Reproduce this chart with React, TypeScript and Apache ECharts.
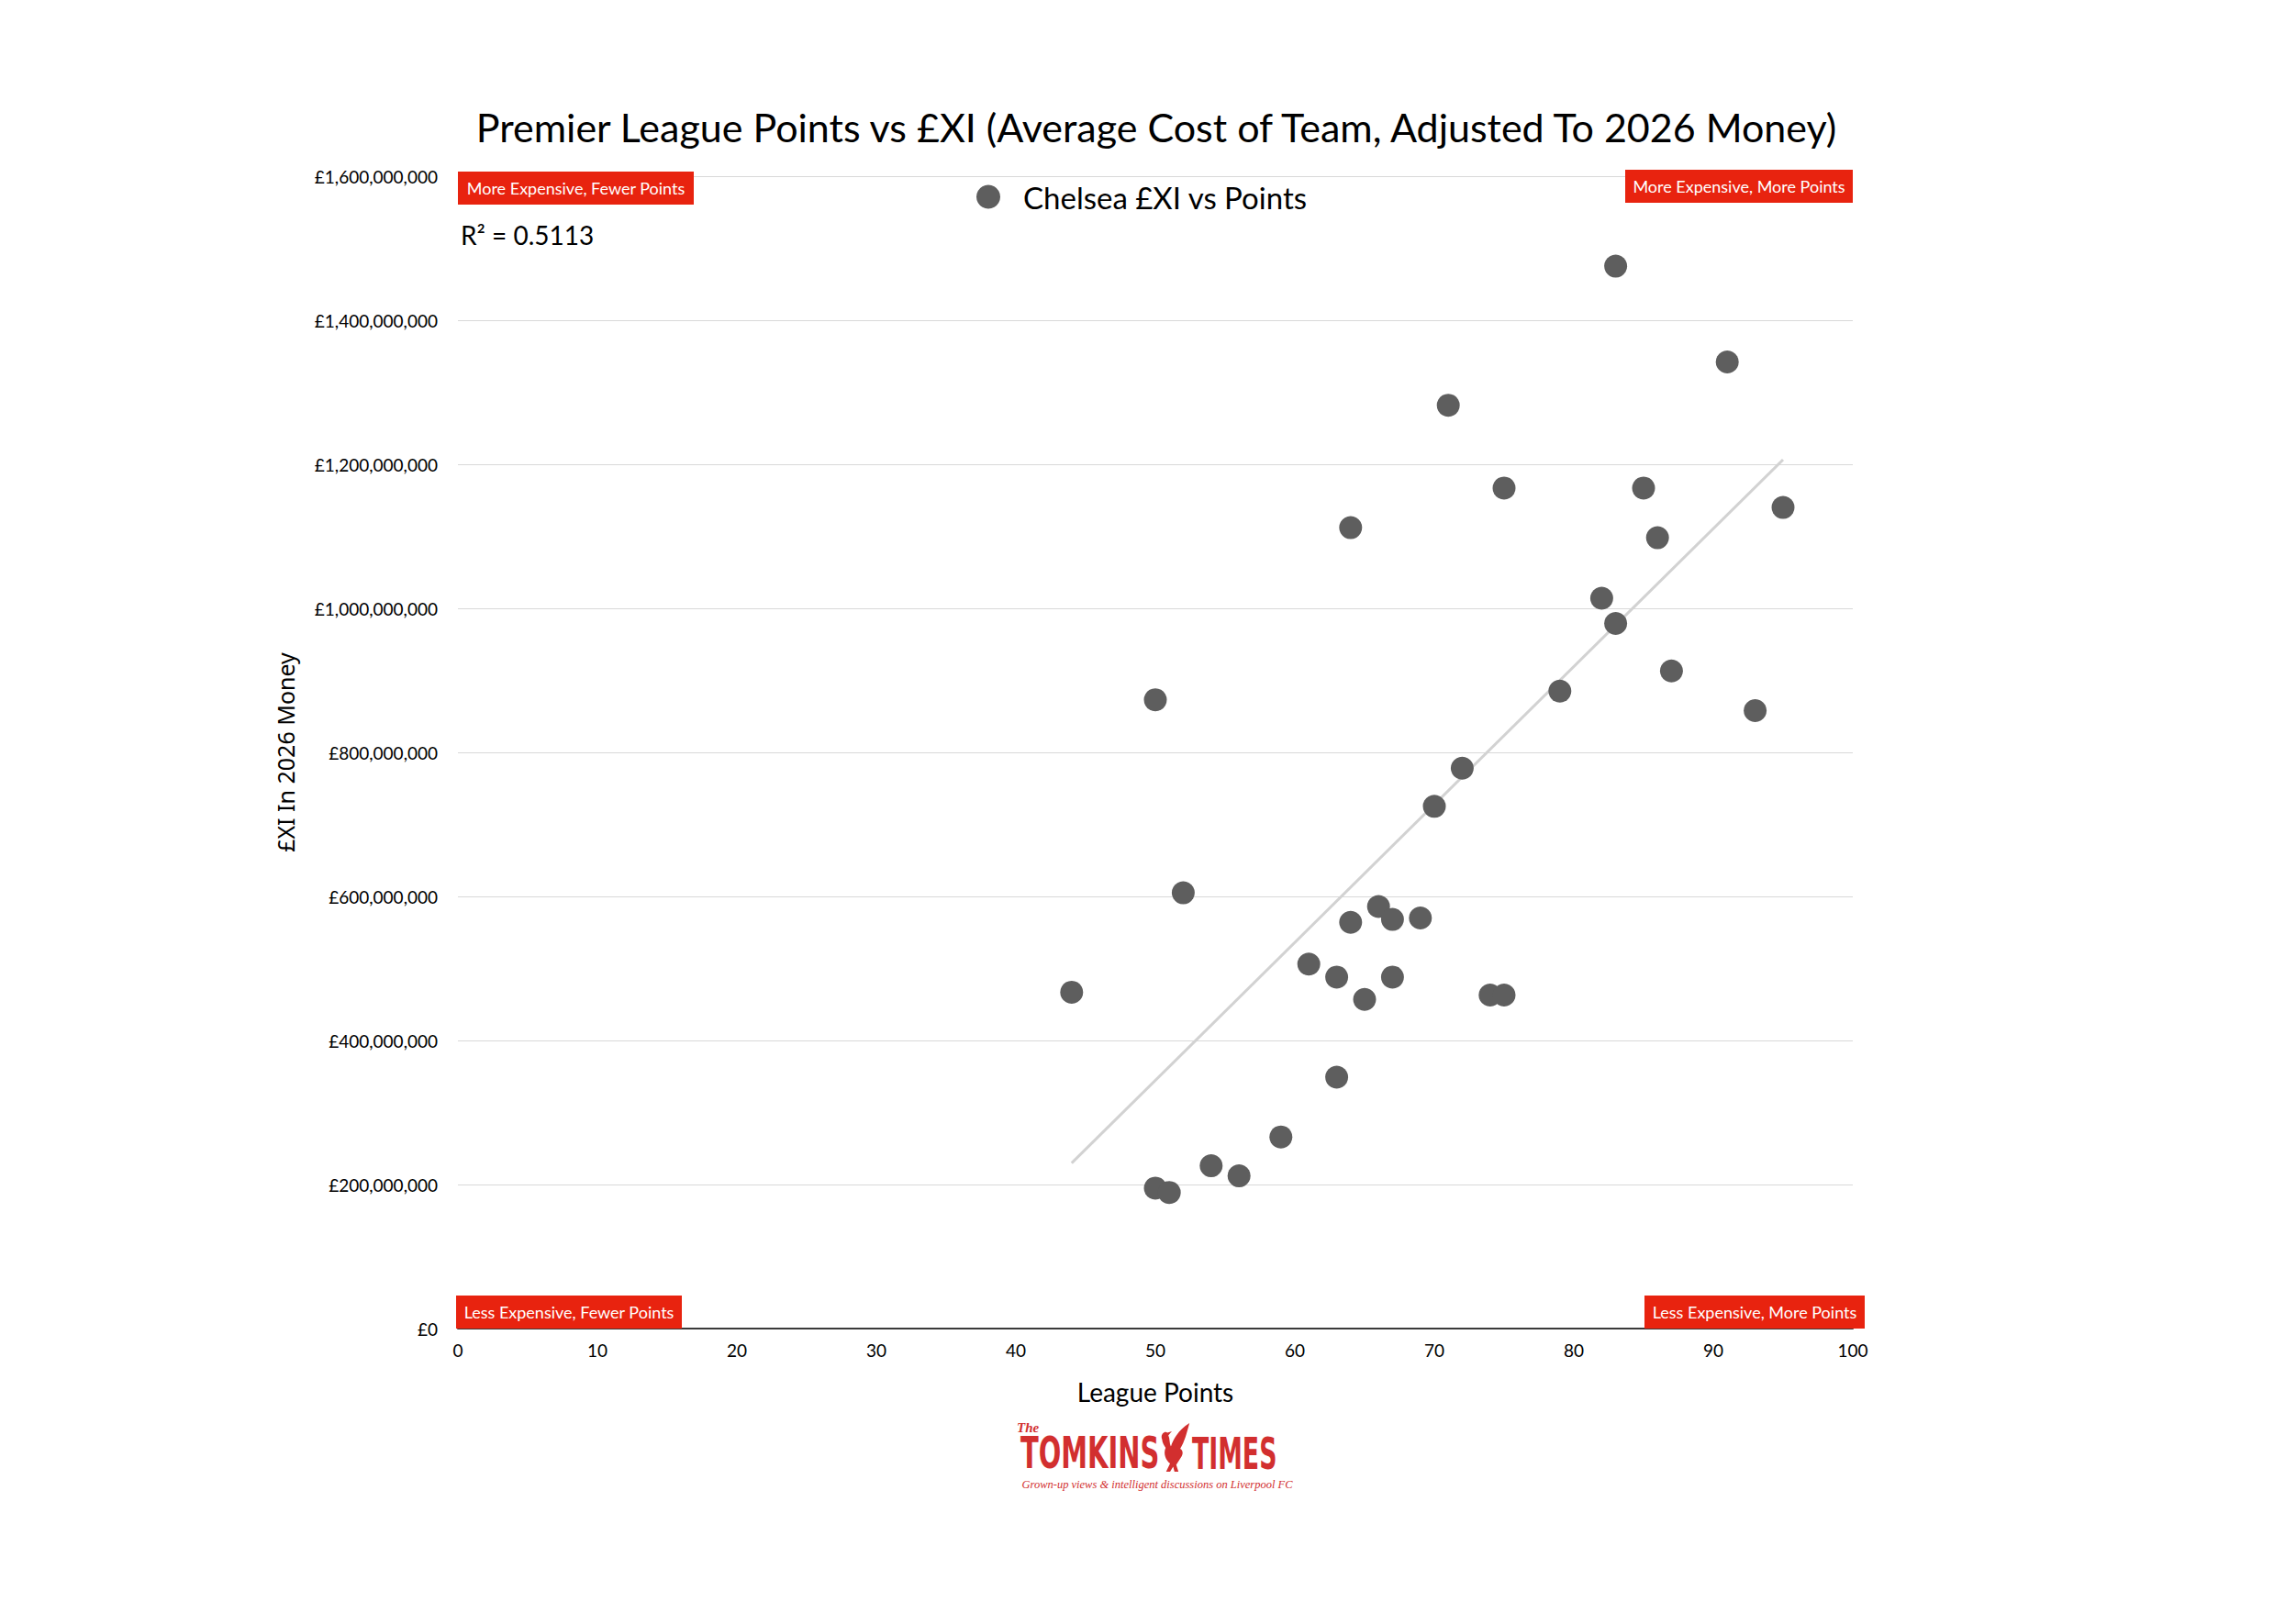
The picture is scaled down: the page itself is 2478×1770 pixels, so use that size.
import React, { useEffect, useRef } from "react";
import * as echarts from "echarts";

const seriesName = "Chelsea £XI vs Points";
const leaguePoints = [83, 91, 71, 75, 85, 64, 95, 86, 82, 83, 87, 79, 93, 50, 72, 70, 52, 66, 64, 67, 69, 61, 63, 67, 65, 74, 75, 44, 63, 59, 54, 56, 50, 51];
const xiCostMillions = [1475, 1342, 1282, 1167, 1167, 1112, 1140, 1098, 1014, 979, 913, 885, 858, 873, 778, 725, 605, 586, 564, 568, 570, 506, 488, 488, 457, 463, 463, 467, 349, 266, 226, 212, 195, 189];
const xTicks = [0, 100, 10];
const yTicks = [0, 1600000000, 200000000];
const titleText = "Premier League Points vs £XI (Average Cost of Team, Adjusted To 2026 Money)";
const rSquaredText = "R² = 0.5113";
const quadrantLabels = [
  "More Expensive, Fewer Points",
  "More Expensive, More Points",
  "Less Expensive, Fewer Points",
  "Less Expensive, More Points",
];

const BIRD =
  "M30 40 C 25 30, 35 20, 42 25 L 52 22 L 44 31 C 48 38, 46 48, 50 55 C 55 40, 66 20, 92 4 C 86 25, 81 45, 71 60 C 77 63, 79 71, 72 80 L 62 95 L 67 110 L 58 110 L 55 99 L 48 110 L 39 110 L 48 92 C 38 85, 32 70, 38 58 C 34 52, 30 46, 30 40 Z";
echarts.graphic.registerShape("liverbird", echarts.graphic.extendPath(BIRD, {}));

function regression(xs: number[], ys: number[]) {
  const n = xs.length;
  const mx = xs.reduce((a, b) => a + b, 0) / n;
  const my = ys.reduce((a, b) => a + b, 0) / n;
  let sxy = 0;
  let sxx = 0;
  for (let i = 0; i < n; i++) {
    sxy += (xs[i] - mx) * (ys[i] - my);
    sxx += (xs[i] - mx) * (xs[i] - mx);
  }
  const b = sxy / sxx;
  const a = my - b * mx;
  return { a, b };
}

export default function App() {
  const ref = useRef<HTMLDivElement>(null);
  useEffect(() => {
    if (!ref.current) return;
    const chart = echarts.init(ref.current, null, { renderer: "svg" });
    const ys = xiCostMillions.map((v) => v * 1e6);
    const pts = leaguePoints.map((x, i) => [x, ys[i]]);
    const { a, b } = regression(leaguePoints, ys);
    const minX = Math.min(...leaguePoints);
    const maxX = Math.max(...leaguePoints);
    const trend = [
      [minX, a + b * minX],
      [maxX, a + b * maxX],
    ];
    const font = "Lato, 'Noto Sans', sans-serif";
    const red = "#e8230f";
    const logoRed = "#d22f2f";
    const box = (x: number, y: number, w: number, label: string) => ({
      type: "group",
      x,
      y,
      z: 100,
      children: [
        { type: "rect", z: 100, shape: { x: 0, y: 0, width: w, height: 36 }, style: { fill: red } },
        {
          type: "text",
          z: 101,
          x: w / 2,
          y: 18,
          style: {
            text: label,
            fill: "#fff",
            font: `18px ${font}`,
            textAlign: "center",
            textVerticalAlign: "middle",
          },
        },
      ],
    });
    chart.setOption({
      animation: false,
      backgroundColor: "#fff",
      legend: {
        data: [seriesName],
        left: 1059,
        top: 193,
        icon: "circle",
        itemWidth: 26,
        itemHeight: 26,
        textStyle: { fontFamily: font, fontSize: 33, color: "#000", padding: [0, 0, 0, 20] },
      },
      grid: { left: 499, right: 459, top: 192, bottom: 322, containLabel: false },
      xAxis: {
        type: "value",
        min: xTicks[0],
        max: xTicks[1],
        interval: xTicks[2],
        name: "League Points",
        nameLocation: "middle",
        nameGap: 55,
        nameTextStyle: { fontFamily: font, fontSize: 28, color: "#000" },
        axisLine: { show: true, lineStyle: { color: "#3a3a3a", width: 2 } },
        axisTick: { show: false },
        splitLine: { show: false },
        axisLabel: { fontFamily: font, fontSize: 19, color: "#000", margin: 14 },
      },
      yAxis: {
        type: "value",
        min: yTicks[0],
        max: yTicks[1],
        interval: yTicks[2],
        name: "£XI In 2026 Money",
        nameLocation: "middle",
        nameGap: 176,
        nameRotate: 90,
        nameTextStyle: { fontFamily: "'Noto Sans', sans-serif", fontSize: 25, color: "#000" },
        axisLine: { show: false },
        axisTick: { show: false },
        splitLine: { show: true, lineStyle: { color: "#d9d9d9", width: 1 } },
        axisLabel: {
          fontFamily: font,
          fontSize: 19,
          color: "#000",
          margin: 22,
          formatter: (v: number) => "£" + v.toLocaleString("en-GB"),
        },
      },
      series: [
        {
          name: "trend",
          type: "line",
          data: trend,
          showSymbol: false,
          symbol: "none",
          lineStyle: { color: "#d2d2d2", width: 3 },
          silent: true,
          z: 1,
        },
        {
          name: seriesName,
          type: "scatter",
          data: pts,
          symbolSize: 25,
          itemStyle: { color: "#5e5e5e", opacity: 1 },
          z: 3,
        },
      ],
      graphic: [
        {
          type: "text",
          x: 1260,
          y: 138,
          style: {
            text: titleText,
            font: `43px ${font}`,
            fill: "#000",
            textAlign: "center",
            textVerticalAlign: "middle",
          },
        },
        box(499, 187, 257, quadrantLabels[0]),
        box(1771, 185, 248, quadrantLabels[1]),
        box(497, 1412, 246, quadrantLabels[2]),
        box(1792, 1412, 240, quadrantLabels[3]),
        {
          type: "text",
          x: 502,
          y: 256,
          style: {
            text: rSquaredText,
            font: `28px ${font}`,
            fill: "#000",
            textVerticalAlign: "middle",
          },
        },
        {
          type: "text",
          x: 1108,
          y: 1556,
          style: {
            text: "The",
            font: "italic bold 15px 'Liberation Serif', serif",
            fill: logoRed,
            textVerticalAlign: "middle",
          },
        },
        {
          type: "text",
          x: 1112,
          y: 1584,
          scaleX: 0.67,
          style: {
            text: "TOMKINS",
            font: "bold 48px 'Liberation Sans Narrow', 'DejaVu Sans Condensed', sans-serif",
            fill: logoRed,
            textVerticalAlign: "middle",
          },
        },
        {
          type: "liverbird",
          x: 1252,
          y: 1549,
          scaleX: 0.48,
          scaleY: 0.5,
          style: { fill: logoRed },
        },
        {
          type: "text",
          x: 1299,
          y: 1584,
          scaleX: 0.62,
          style: {
            text: "TIMES",
            font: "bold 48px 'Liberation Sans Narrow', 'DejaVu Sans Condensed', sans-serif",
            fill: logoRed,
            textVerticalAlign: "middle",
          },
        },
        {
          type: "text",
          x: 1261,
          y: 1618,
          style: {
            text: "Grown-up views & intelligent discussions on Liverpool FC",
            font: "italic 12.5px 'Liberation Serif', serif",
            fill: logoRed,
            textAlign: "center",
            textVerticalAlign: "middle",
          },
        },
      ],
    });
    return () => chart.dispose();
  }, []);
  return (
    <div
      ref={ref}
      style={{ position: "fixed", left: 0, top: 0, width: "2478px", height: "1770px", background: "#fff" }}
    />
  );
}
